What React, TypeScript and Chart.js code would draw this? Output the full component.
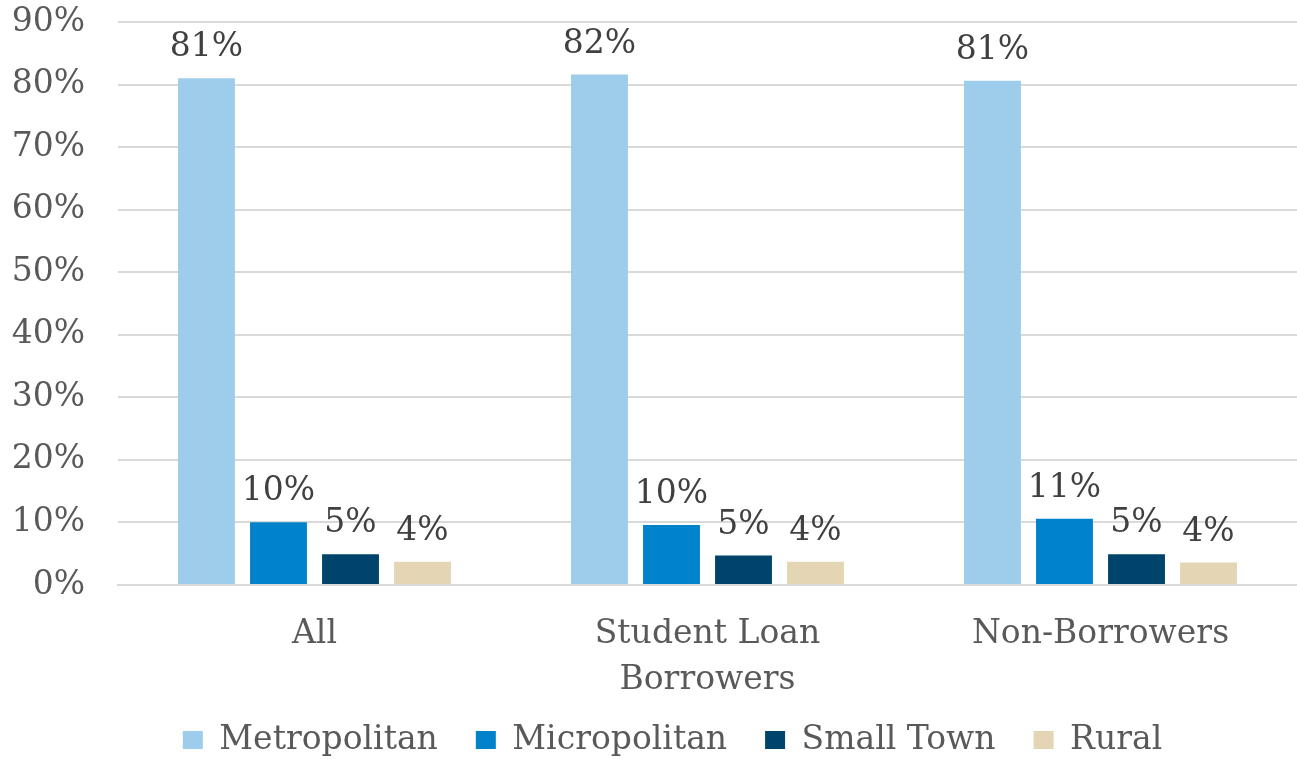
import React, { useEffect, useRef } from "react";
import { Chart, registerables } from "chart.js";

Chart.register(...registerables);

const categories: (string | string[])[] = ["All", ["Student Loan", "Borrowers"], "Non-Borrowers"];
const metropolitan = [81.0, 81.6, 80.6];
const micropolitan = [10.05, 9.6, 10.6];
const smallTown = [4.9, 4.7, 4.9];
const rural = [3.7, 3.7, 3.6];
const seriesNames = ["Metropolitan", "Micropolitan", "Small Town", "Rural"];
const seriesColors = ["#9DCDEA", "#0083CA", "#00446B", "#E4D6B5"];
const yTicksMax = 90;

const FONT = "'DejaVu Serif', Georgia, serif";
const FS = 33;

const dataLabels = {
  id: "dataLabels",
  afterDatasetsDraw(chart: any) {
    const ctx = chart.ctx;
    ctx.save();
    ctx.font = `${FS}px ${FONT}`;
    ctx.fillStyle = "#404040";
    ctx.textAlign = "center";
    ctx.textBaseline = "bottom";
    chart.data.datasets.forEach((ds: any, i: number) => {
      const meta = chart.getDatasetMeta(i);
      meta.data.forEach((el: any, j: number) => {
        const v = ds.data[j] as number;
        ctx.fillText(Math.round(v) + "%", el.x, el.y - 14);
      });
    });
    ctx.restore();
  },
};

const legendShift = {
  id: "legendShift",
  afterLayout(chart: any) {
    if (chart.legend) {
      chart.legend.left += 24;
      chart.legend.right += 24;
    }
  },
};

export default function App() {
  const ref = useRef<HTMLCanvasElement>(null);
  useEffect(() => {
    document.body.style.margin = "0";
    const series = [metropolitan, micropolitan, smallTown, rural];
    const chart = new Chart(ref.current!, {
      type: "bar",
      data: {
        labels: categories,
        datasets: series.map((d, i) => ({
          label: seriesNames[i],
          data: d,
          backgroundColor: seriesColors[i],
          categoryPercentage: 0.733,
          barPercentage: 0.79,
        })),
      },
      options: {
        animation: false,
        responsive: false,
        maintainAspectRatio: false,
        layout: { padding: { top: 0, right: 0, left: 0, bottom: -7.5 } },
        plugins: {
          tooltip: { enabled: false },
          legend: {
            position: "bottom",
            labels: {
              font: { family: FONT, size: FS },
              color: "#595959",
              boxWidth: 20,
              boxHeight: 18,
              padding: 38,
            },
          },
        },
        scales: {
          x: {
            afterFit(scale: any) {
              scale.height = 100.5;
              scale._computeLabelArea = () => undefined;
            },
            grid: { display: false },
            border: { display: true, color: "#d9d9d9", width: 2 },
            ticks: {
              font: { family: FONT, size: FS, lineHeight: 1.4 },
              color: "#595959",
              padding: 18,
              maxRotation: 0,
            },
          },
          y: {
            min: 0,
            max: yTicksMax,
            afterFit(scale: any) {
              scale.width = 118;
              scale.paddingTop = 22;
              scale.paddingBottom = 20;
            },
            grid: { color: "#d9d9d9", lineWidth: 2, drawTicks: false },
            border: { display: false },
            ticks: {
              stepSize: 10,
              padding: 33,
              font: { family: FONT, size: FS },
              color: "#595959",
              callback: (v: any) => v + "%",
            },
          },
        },
      },
      plugins: [dataLabels, legendShift],
    });
    return () => chart.destroy();
  }, []);
  return (
    <div style={{ width: 1297, height: 759 }}>
      <canvas ref={ref} width={1297} height={759} style={{ display: "block" }} />
    </div>
  );
}
